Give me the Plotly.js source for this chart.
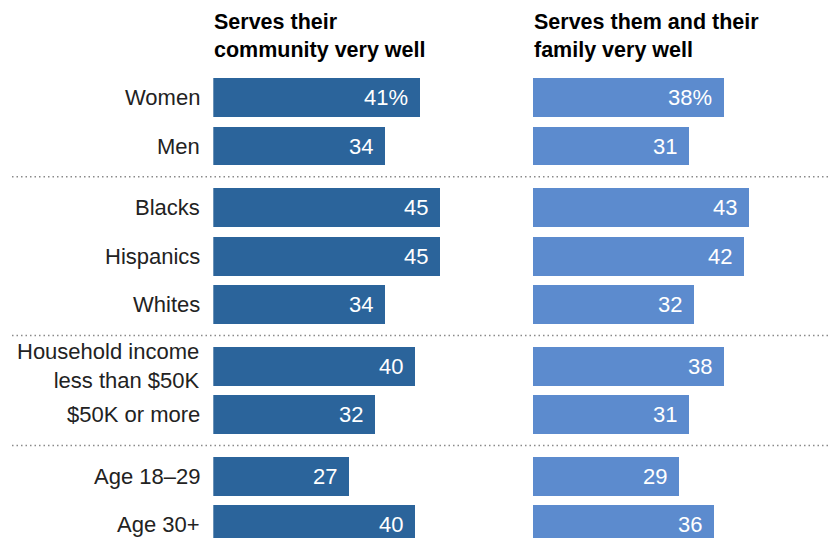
<!DOCTYPE html>
<html>
<head>
<meta charset="utf-8">
<script src="https://cdn.plot.ly/plotly-3.0.1.min.js"></script>
<style>html,body{margin:0;padding:0;background:#fff;}#chart{width:831px;height:538px;}</style>
</head>
<body>
<div id="chart"></div>
<script>
const categories = ['Women', 'Men', 'Blacks', 'Hispanics', 'Whites', 'Household income<br>less than $50K', '$50K or more', 'Age 18–29', 'Age 30+'];
const groups = [0, 0, 1, 1, 1, 2, 2, 3, 3];
const community = [41, 34, 45, 45, 34, 40, 32, 27, 40];
const family = [38, 31, 43, 42, 32, 38, 31, 29, 36];
const panelTitles = ['Serves their<br>community very well', 'Serves them and their<br>family very well'];

const GAP = 0.27;
const pos = categories.map((c, i) => i + groups[i] * GAP);

const W = 831, H = 538;
const FONT = 'Liberation Sans, Arial, sans-serif';
const dark = '#2b649b', light = '#5c8bce';

const traces = [
  {type: 'bar', orientation: 'h', x: community, y: pos, width: 0.8, marker: {color: dark}, xaxis: 'x', yaxis: 'y', hoverinfo: 'none'},
  {type: 'bar', orientation: 'h', x: family, y: pos, width: 0.8, marker: {color: light}, xaxis: 'x2', yaxis: 'y', hoverinfo: 'none'}
];

const annotations = [];
categories.forEach((c, i) => {
  annotations.push({xref: 'paper', yref: 'y', x: 202 / W, y: pos[i], xanchor: 'right', yanchor: 'middle', align: 'right', text: c, showarrow: false, font: {family: FONT, size: 22, color: '#222'}});
  annotations.push({xref: 'x', yref: 'y', x: community[i], y: pos[i], xanchor: 'right', yanchor: 'middle', xshift: -10, text: community[i] + (i === 0 ? '%' : ''), showarrow: false, font: {family: FONT, size: 22, color: '#fff'}});
  annotations.push({xref: 'x2', yref: 'y', x: family[i], y: pos[i], xanchor: 'right', yanchor: 'middle', xshift: -10, text: family[i] + (i === 0 ? '%' : ''), showarrow: false, font: {family: FONT, size: 22, color: '#fff'}});
});
[212 / W, 531.5 / W].forEach((xp, k) => {
  annotations.push({xref: 'paper', yref: 'paper', x: xp, y: 1 - 36 / H, xanchor: 'left', yanchor: 'middle', align: 'left', text: '<b>' + panelTitles[k] + '</b>', showarrow: false, font: {family: FONT, size: 21.5, color: '#000'}});
});

const shapes = [];
for (let i = 1; i < categories.length; i++) {
  if (groups[i] !== groups[i - 1]) {
    const yy = (pos[i] + pos[i - 1]) / 2;
    shapes.push({type: 'line', xref: 'paper', yref: 'y', x0: 12 / W, x1: 1, y0: yy, y1: yy, line: {color: '#8a8a8a', width: 1.5, dash: '1.5px,3px'}});
  }
}

const pxPerRow = 48.5;
const yMin = -97.5 / pxPerRow;
const yMax = yMin + H / pxPerRow;
const pxPerUnit = 5.04;

const layout = {
  width: W, height: H,
  margin: {l: 0, r: 0, t: 0, b: 0, pad: 0},
  paper_bgcolor: '#fff', plot_bgcolor: 'rgba(0,0,0,0)',
  showlegend: false,
  bargap: 0,
  xaxis: {domain: [213.3 / W, (213.3 + 50 * pxPerUnit) / W], range: [0, 50], visible: false, fixedrange: true},
  xaxis2: {domain: [532.5 / W, (532.5 + 50 * pxPerUnit) / W], range: [0, 50], visible: false, fixedrange: true, anchor: 'y'},
  yaxis: {range: [yMax, yMin], visible: false, fixedrange: true},
  annotations: annotations,
  shapes: shapes
};

Plotly.newPlot('chart', traces, layout, {displayModeBar: false, staticPlot: true});
</script>
</body>
</html>
